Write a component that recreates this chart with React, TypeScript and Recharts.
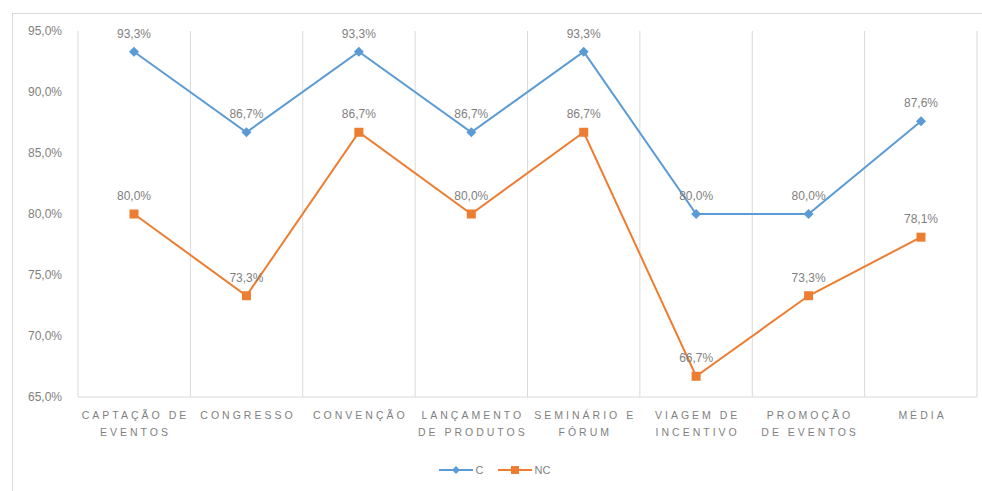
import React from 'react';
import { LineChart, Line, XAxis, YAxis, CartesianGrid, Legend, LabelList } from 'recharts';

const categories = [
  'CAPTAÇÃO DE|EVENTOS',
  'CONGRESSO',
  'CONVENÇÃO',
  'LANÇAMENTO|DE PRODUTOS',
  'SEMINÁRIO E|FÓRUM',
  'VIAGEM DE|INCENTIVO',
  'PROMOÇÃO|DE EVENTOS',
  'MÉDIA',
];
const cValues = [93.3, 86.7, 93.3, 86.7, 93.3, 80.0, 80.0, 87.6];
const ncValues = [80.0, 73.3, 86.7, 80.0, 86.7, 66.7, 73.3, 78.1];
const yTicks = [65, 70, 75, 80, 85, 90, 95];

const data = categories.map((name, i) => ({ name, C: cValues[i], NC: ncValues[i] }));

const BLUE = '#5b9bd5';
const ORANGE = '#ed7d31';
const GRAY = '#7f7f7f';
const FONT = '"Liberation Sans", Arial, sans-serif';

const pct = (v: number) => v.toFixed(1).replace('.', ',') + '%';

const CategoryTick = (props: any) => {
  const { x, y, payload } = props;
  const lines = String(payload.value).split('|');
  return (
    <g transform={`translate(${x},${y})`}>
      {lines.map((line, i) => (
        <text
          key={i}
          x={1.5}
          y={i * 17}
          dy={14}
          textAnchor="middle"
          fill={GRAY}
          fontSize={10.5}
          fontFamily={FONT}
          style={{ letterSpacing: '3px' }}
        >
          {line}
        </text>
      ))}
    </g>
  );
};

const Diamond = (props: any) => {
  const { cx, cy } = props;
  if (cx == null || cy == null) return null;
  return <path d={`M${cx},${cy - 5}L${cx + 5},${cy}L${cx},${cy + 5}L${cx - 5},${cy}Z`} fill={BLUE} />;
};

const Square = (props: any) => {
  const { cx, cy } = props;
  if (cx == null || cy == null) return null;
  return <rect x={cx - 4.5} y={cy - 4.5} width={9} height={9} fill={ORANGE} />;
};

const LegendContent = () => (
  <div style={{ display: 'flex', justifyContent: 'center', gap: 14, paddingTop: 13, fontFamily: FONT, fontSize: 11, color: GRAY }}>
    <span style={{ display: 'flex', alignItems: 'center', gap: 3 }}>
      <svg width={34} height={10}>
        <line x1={0} y1={5} x2={34} y2={5} stroke={BLUE} strokeWidth={2} />
        <path d="M17,1L21,5L17,9L13,5Z" fill={BLUE} />
      </svg>
      C
    </span>
    <span style={{ display: 'flex', alignItems: 'center', gap: 3 }}>
      <svg width={34} height={10}>
        <line x1={0} y1={5} x2={34} y2={5} stroke={ORANGE} strokeWidth={2} />
        <rect x={13} y={1} width={8} height={8} fill={ORANGE} />
      </svg>
      NC
    </span>
  </div>
);

export default function App() {
  return (
    <div style={{ position: 'absolute', left: 0, top: 0, width: 982, height: 491, background: '#fff', overflow: 'hidden' }}>
      <div style={{ position: 'absolute', left: 12, top: 13, width: 980, height: 490, border: '1px solid #d9d9d9' }} />
      <LineChart width={982} height={491} data={data} margin={{ top: 31, right: 5, left: 12, bottom: 0 }}>
        <CartesianGrid
          horizontal={false}
          stroke="#d9d9d9"
          verticalCoordinatesGenerator={({ offset }: any) =>
            Array.from({ length: categories.length + 1 }, (_, i) => offset.left + (i * offset.width) / categories.length)
          }
        />
        <XAxis
          dataKey="name"
          tick={<CategoryTick />}
          tickLine={false}
          axisLine={{ stroke: '#d9d9d9' }}
          interval={0}
          height={54}
          padding={{ left: 56, right: 56 }}
        />
        <YAxis
          domain={[65, 95]}
          ticks={yTicks}
          tickFormatter={pct}
          axisLine={false}
          tickLine={false}
          width={66}
          tickMargin={10}
          tick={{ fill: GRAY, fontSize: 12, fontFamily: FONT }}
        />
        <Legend verticalAlign="bottom" height={40} content={<LegendContent />} />
        <Line type="linear" dataKey="C" stroke={BLUE} strokeWidth={2} dot={<Diamond />} activeDot={false} isAnimationActive={false}>
          <LabelList dataKey="C" position="top" offset={14} formatter={(v: any) => pct(Number(v))} fill={GRAY} fontSize={12} fontFamily={FONT} />
        </Line>
        <Line type="linear" dataKey="NC" stroke={ORANGE} strokeWidth={2} dot={<Square />} activeDot={false} isAnimationActive={false}>
          <LabelList dataKey="NC" position="top" offset={14} formatter={(v: any) => pct(Number(v))} fill={GRAY} fontSize={12} fontFamily={FONT} />
        </Line>
      </LineChart>
    </div>
  );
}
